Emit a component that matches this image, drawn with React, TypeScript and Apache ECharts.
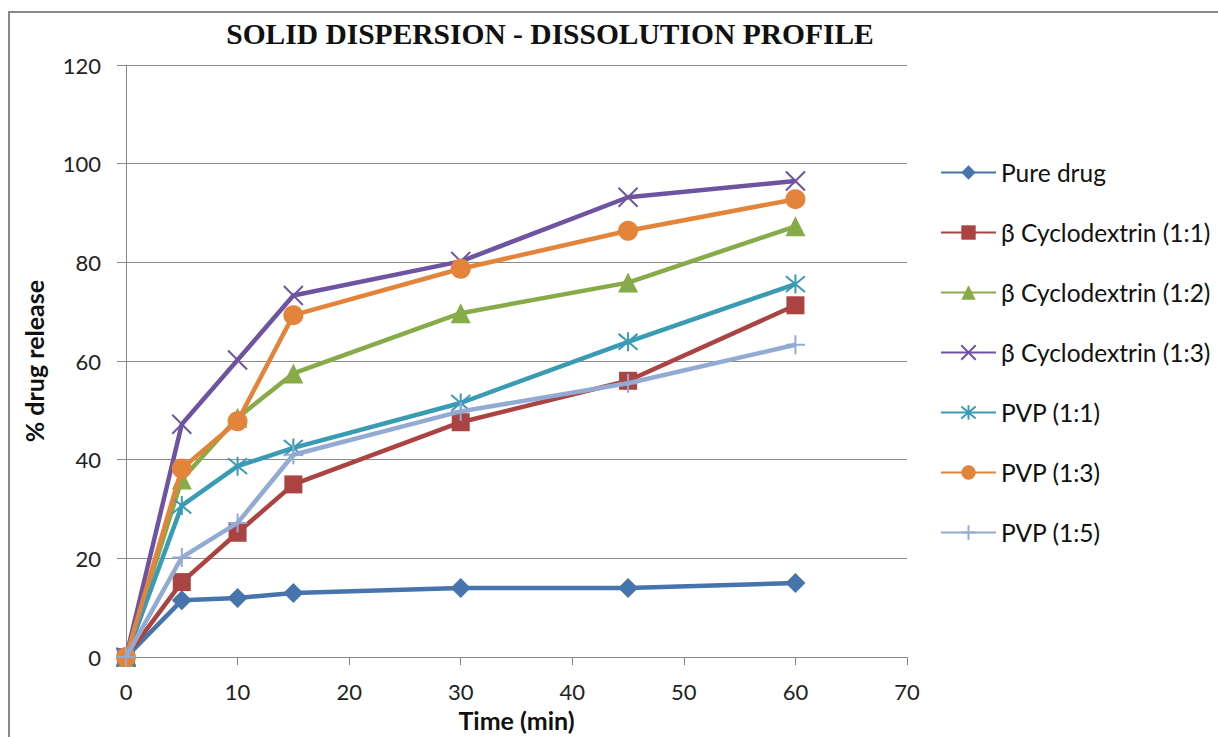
import React, { useEffect, useRef } from "react";
import * as echarts from "echarts";

const times = [0, 5, 10, 15, 30, 45, 60];
const seriesNames = [
  "Pure drug",
  "β Cyclodextrin (1:1)",
  "β Cyclodextrin (1:2)",
  "β Cyclodextrin (1:3)",
  "PVP (1:1)",
  "PVP (1:3)",
  "PVP (1:5)",
];
const pureDrug = [0, 11.5, 12, 13, 14, 14, 15];
const bcd11 = [0, 15.2, 25.2, 35, 47.6, 56, 71.3];
const bcd12 = [0, 36, 48.5, 57.5, 69.7, 75.9, 87.3];
const bcd13 = [0, 47.2, 60.2, 73.3, 80.2, 93.2, 96.5];
const pvp11 = [0, 30.7, 38.7, 42.4, 51.5, 63.9, 75.6];
const pvp13 = [0, 38.2, 47.8, 69.3, 78.7, 86.4, 92.8];
const pvp15 = [0, 20.2, 27.2, 41, 49.8, 55.5, 63.3];
const allValues = [pureDrug, bcd11, bcd12, bcd13, pvp11, pvp13, pvp15];

const colors = ["#4674AC", "#AA4341", "#88AB4A", "#6E54A0", "#3A9BB5", "#E3843A", "#93ABD3"];
const crossPath = "path://M0,0L10,10M10,0L0,10";
const asteriskPath = "path://M0,0L10,10M10,0L0,10M5,-1L5,11";
const plusPath = "path://M5,0L5,10M0,5L10,5";
const symbols = ["diamond", "rect", "triangle", crossPath, asteriskPath, "circle", plusPath];
const symbolSizes = [20, 18, 20, 19, 19, 20, 19];

export default function App() {
  const ref = useRef<HTMLDivElement>(null);
  useEffect(() => {
    if (!ref.current) return;
    const chart = echarts.init(ref.current, undefined, { renderer: "svg" });
    const labelFont = "Lato, 'Open Sans', sans-serif";
    const series = seriesNames.map((name, i) => {
      const isStroke = i === 3 || i === 4 || i === 6;
      return {
        name,
        type: "line",
        data: times.map((t, j) => [t, allValues[i][j]]),
        symbol: symbols[i],
        symbolSize: symbolSizes[i],
        showAllSymbol: true,
        clip: false,
        lineStyle: { color: colors[i], width: 4.5 },
        itemStyle: isStroke
          ? { color: colors[i], borderColor: colors[i], borderWidth: 2 }
          : { color: colors[i], borderWidth: 0 },
        emphasis: { disabled: true },
        z: 2 + i,
      };
    });
    chart.setOption({
      animation: false,
      backgroundColor: "#ffffff",
      title: {
        text: "SOLID DISPERSION - DISSOLUTION PROFILE",
        left: 545,
        top: 14,
        textAlign: "center",
        textStyle: {
          fontFamily: "'Liberation Serif', 'Times New Roman', serif",
          fontWeight: "bold",
          fontSize: 29.5,
          color: "#111",
        },
      },
      graphic: [
        {
          type: "rect",
          shape: { x: 9, y: 12, width: 1240, height: 760 },
          style: { fill: "none", stroke: "#888", lineWidth: 2 },
          silent: true,
          z: -10,
        },
      ],
      legend: {
        orient: "vertical",
        left: 935,
        top: 155,
        itemWidth: 55,
        itemHeight: 18,
        itemGap: 35,
        data: seriesNames,
        textStyle: { fontFamily: labelFont, fontSize: 24.5, color: "#111", lineHeight: 24 },
        selectedMode: false,
      },
      grid: { left: 126, right: 311, top: 65, bottom: 70, containLabel: false },
      xAxis: {
        type: "value",
        min: 0,
        max: 70,
        interval: 10,
        name: "Time (min)",
        nameLocation: "middle",
        nameGap: 46,
        nameTextStyle: { fontFamily: labelFont, fontWeight: "bold", fontSize: 25, color: "#111", verticalAlign: "top" },
        axisLine: { show: true, lineStyle: { color: "#888", width: 1 } },
        axisTick: { show: true, length: 8, inside: false, lineStyle: { color: "#888" } },
        axisLabel: { fontFamily: labelFont, fontSize: 22, color: "#222", margin: 23 },
        splitLine: { show: false },
      },
      yAxis: {
        type: "value",
        min: 0,
        max: 120,
        interval: 20,
        name: "% drug release",
        nameLocation: "middle",
        nameRotate: 90,
        nameGap: 80,
        nameTextStyle: { fontFamily: labelFont, fontWeight: "bold", fontSize: 25, color: "#111" },
        axisLine: { show: true, lineStyle: { color: "#888", width: 1 } },
        axisTick: { show: true, length: 9, inside: false, lineStyle: { color: "#888" } },
        axisLabel: { fontFamily: labelFont, fontSize: 22, color: "#222", margin: 25 },
        splitLine: { show: true, lineStyle: { color: "#8c8c8c", width: 1 } },
      },
      series,
    });
    return () => chart.dispose();
  }, []);
  return (
    <div
      ref={ref}
      style={{ position: "absolute", left: 0, top: 0, width: 1218, height: 737 }}
    />
  );
}
